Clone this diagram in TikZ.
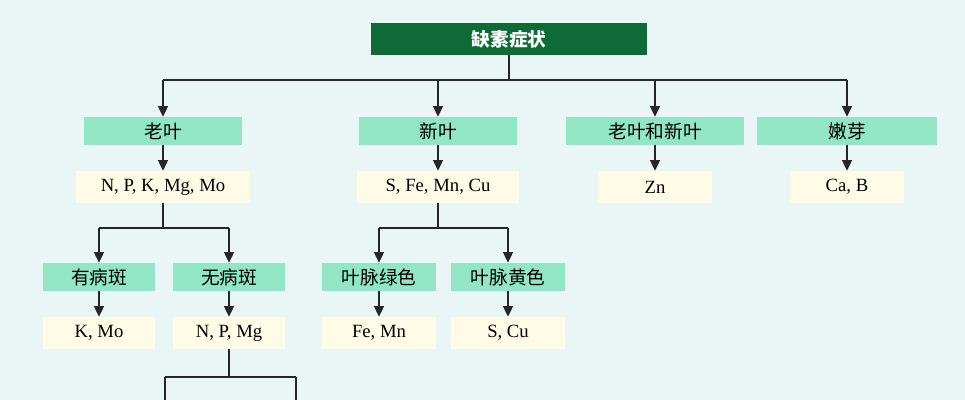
\documentclass[tikz,border=0pt]{standalone}
\usepackage{fontspec}
\setmainfont{Liberation Serif}
\newfontfamily\cjk{Noto Sans CJK SC}
\usetikzlibrary{arrows.meta}
\definecolor{bgc}{HTML}{E9F6F5}
\definecolor{topc}{HTML}{0E6B38}
\definecolor{leafc}{HTML}{92E6C6}
\definecolor{elemc}{HTML}{FFFBE6}
\tikzset{
  topbox/.style={fill=topc,text=white,font=\cjk\bfseries\fontsize{14}{16}\selectfont,minimum width=207pt,minimum height=24pt,inner sep=0pt},
  leafbox/.style n args={1}{fill=leafc,font=\cjk\fontsize{14}{16}\selectfont,minimum width=#1,minimum height=21pt,inner sep=0pt},
  elembox/.style n args={1}{fill=elemc,font=\fontsize{14}{16}\selectfont,minimum width=#1,minimum height=24pt,inner sep=0pt},
  link/.style={draw=black!85,line width=1pt},
  arr/.style={link,-{Triangle[length=8pt,width=7.5pt]}}
}
\begin{document}
\begin{tikzpicture}[x=0.75pt,y=-0.75pt]
\fill[bgc] (0,0) rectangle (965,400);
\useasboundingbox (0,0) rectangle (965,400);
\node[topbox] (top) at (509,39) {缺素症状};
% first level
\node[leafbox=119pt] (old) at (163,131) {老叶};
\node[leafbox=119pt] (new) at (438,131) {新叶};
\node[leafbox=134pt] (both) at (655,131) {老叶和新叶};
\node[leafbox=135pt] (bud) at (847,131) {嫩芽};
\node[elembox=130pt] (oldel) at (163,187) {N, P, K, Mg, Mo};
\node[elembox=121pt] (newel) at (438,187) {S, Fe, Mn, Cu};
\node[elembox=86pt] (bothel) at (655,187) {Zn};
\node[elembox=86pt] (budel) at (847,187) {Ca, B};
% second level
\node[leafbox=84pt] (spot) at (99,277) {有病斑};
\node[leafbox=84pt] (nospot) at (229,277) {无病斑};
\node[leafbox=85pt] (green) at (379,277) {叶脉绿色};
\node[leafbox=85pt] (yellow) at (508,277) {叶脉黄色};
\node[elembox=84pt] (spotel) at (99,333) {K, Mo};
\node[elembox=84pt] (nospotel) at (229,333) {N, P, Mg};
\node[elembox=85pt] (greenel) at (379,333) {Fe, Mn};
\node[elembox=85pt] (yellowel) at (508,333) {S, Cu};
\coordinate (bl) at (165,400);
\coordinate (br) at (296,400);
% connectors
\draw[link] (top.south) -- (509,80) coordinate (hub);
\draw[link] (old.north |- hub) -- (bud.north |- hub);
\foreach \n in {old,new,both,bud}
  \draw[arr] (\n.north |- hub) -- (\n.north);
\foreach \a/\b in {old/oldel,new/newel,both/bothel,bud/budel,spot/spotel,nospot/nospotel,green/greenel,yellow/yellowel}
  \draw[arr] (\a) -- (\b.north);
\draw[link] (oldel.south) -- (163,228) coordinate (h2);
\draw[link] (spot.north |- h2) -- (nospot.north |- h2);
\draw[arr] (spot.north |- h2) -- (spot.north);
\draw[arr] (nospot.north |- h2) -- (nospot.north);
\draw[link] (newel.south) -- (438,228) coordinate (h3);
\draw[link] (green.north |- h3) -- (yellow.north |- h3);
\draw[arr] (green.north |- h3) -- (green.north);
\draw[arr] (yellow.north |- h3) -- (yellow.north);
\draw[link] (nospotel.south) -- (229,377) coordinate (h4);
\draw[link] (bl |- h4) -- (br |- h4);
\draw[link] (bl |- h4) -- (bl);
\draw[link] (br |- h4) -- (br);
\end{tikzpicture}
\end{document}
